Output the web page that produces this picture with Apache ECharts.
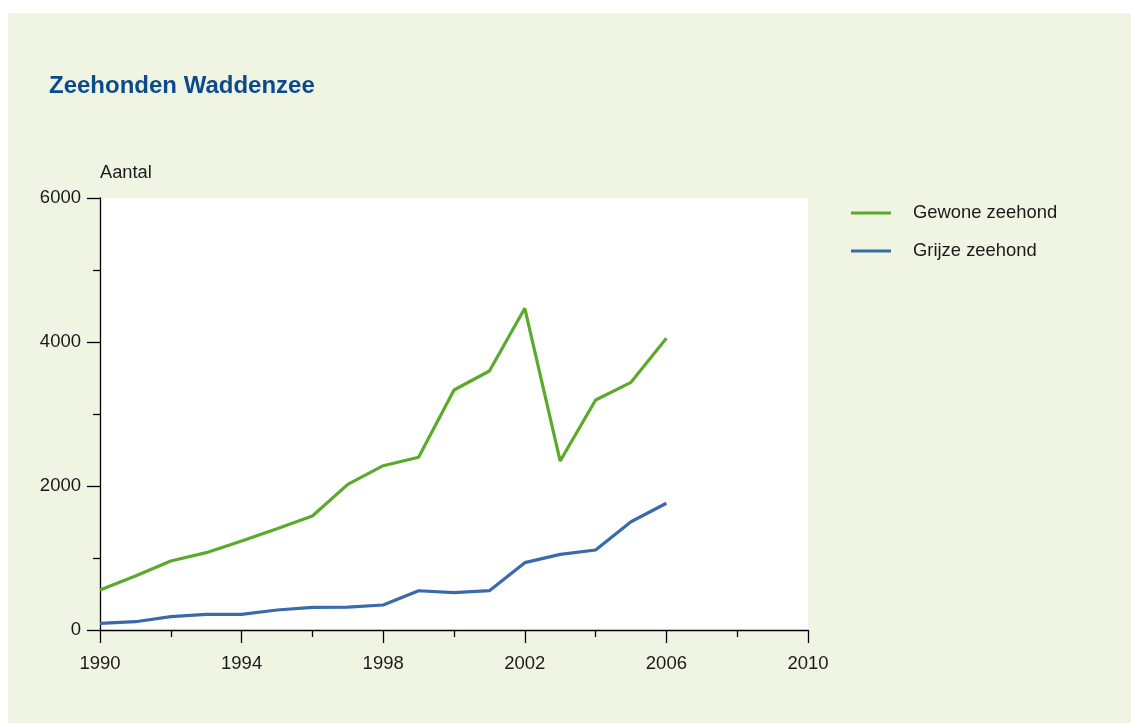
<!DOCTYPE html>
<html>
<head>
<meta charset="utf-8">
<script src="https://cdn.jsdelivr.net/npm/echarts@6/dist/echarts.min.js"></script>
<style>
html,body{margin:0;padding:0;background:#fff;}
#chart{width:1131px;height:723px;}
</style>
</head>
<body>
<div id="chart"></div>
<script>
const years = [1990,1991,1992,1993,1994,1995,1996,1997,1998,1999,2000,2001,2002,2003,2004,2005,2006];
const gewone = [556,750,958,1074,1236,1407,1583,2023,2282,2400,3333,3597,4468,2347,3194,3440,4051];
const grijze = [93,115,185,218,218,278,315,319,347,545,518,546,935,1051,1111,1504,1760];
const seriesNames = ['Gewone zeehond','Grijze zeehond'];
const titleText = 'Zeehonden Waddenzee';
const yAxisName = 'Aantal';

const FONT = "'Liberation Sans', Arial, Helvetica, sans-serif";
const chart = echarts.init(document.getElementById('chart'), null, {renderer:'canvas'});
chart.setOption({
  backgroundColor: '#ffffff',
  animation: false,
  graphic: [{
    type: 'rect', z: -10, silent: true,
    shape: {x: 8, y: 13, width: 1131 - 8, height: 723 - 13},
    style: {fill: '#F0F5E3'}
  }],
  title: {
    text: titleText, left: 49, top: 74, padding: 0,
    textStyle: {fontFamily: FONT, fontSize: 24, fontWeight: 'bold', color: '#0B4A8B'}
  },
  legend: {
    orient: 'vertical', left: 851, top: 204, itemGap: 20, padding: 0,
    itemWidth: 40, itemHeight: 3, icon: 'rect',
    textStyle: {fontFamily: FONT, fontSize: 18.4, color: '#1a1a1a', padding: [0,0,0,17]},
    data: seriesNames
  },
  grid: {left: 100, right: 323, top: 198, bottom: 93, show: true, backgroundColor: '#ffffff', borderWidth: 0},
  xAxis: {
    type: 'value', min: 1990, max: 2010, interval: 4,
    axisLine: {show: true, onZero: false, lineStyle: {color: '#000', width: 1.3}},
    axisTick: {show: true, length: 13, lineStyle: {color: '#000', width: 1.3}},
    minorTick: {show: true, splitNumber: 2, length: 7, lineStyle: {color: '#000', width: 1.3}},
    splitLine: {show: false},
    axisLabel: {fontFamily: FONT, fontSize: 18.5, color: '#1a1a1a', margin: 24, formatter: v => String(v)}
  },
  yAxis: {
    type: 'value', min: 0, max: 6000, interval: 2000,
    name: yAxisName, nameLocation: 'end', nameGap: 16,
    nameTextStyle: {fontFamily: FONT, fontSize: 18.3, color: '#1a1a1a', align: 'left', verticalAlign: 'bottom'},
    axisLine: {show: true, lineStyle: {color: '#000', width: 1.3}},
    axisTick: {show: true, length: 13, lineStyle: {color: '#000', width: 1.3}},
    minorTick: {show: true, splitNumber: 2, length: 7, lineStyle: {color: '#000', width: 1.3}},
    splitLine: {show: false},
    axisLabel: {fontFamily: FONT, fontSize: 18.5, color: '#1a1a1a', margin: 19, formatter: v => String(v)}
  },
  series: [
    {name: seriesNames[0], type: 'line', data: years.map((y,i)=>[y,gewone[i]]), symbol: 'none',
     lineStyle: {color: '#5BAA2B', width: 3.2}, itemStyle: {color: '#5BAA2B'}},
    {name: seriesNames[1], type: 'line', data: years.map((y,i)=>[y,grijze[i]]), symbol: 'none',
     lineStyle: {color: '#3A6BA8', width: 3.2}, itemStyle: {color: '#3A6BA8'}}
  ]
});
</script>
</body>
</html>
